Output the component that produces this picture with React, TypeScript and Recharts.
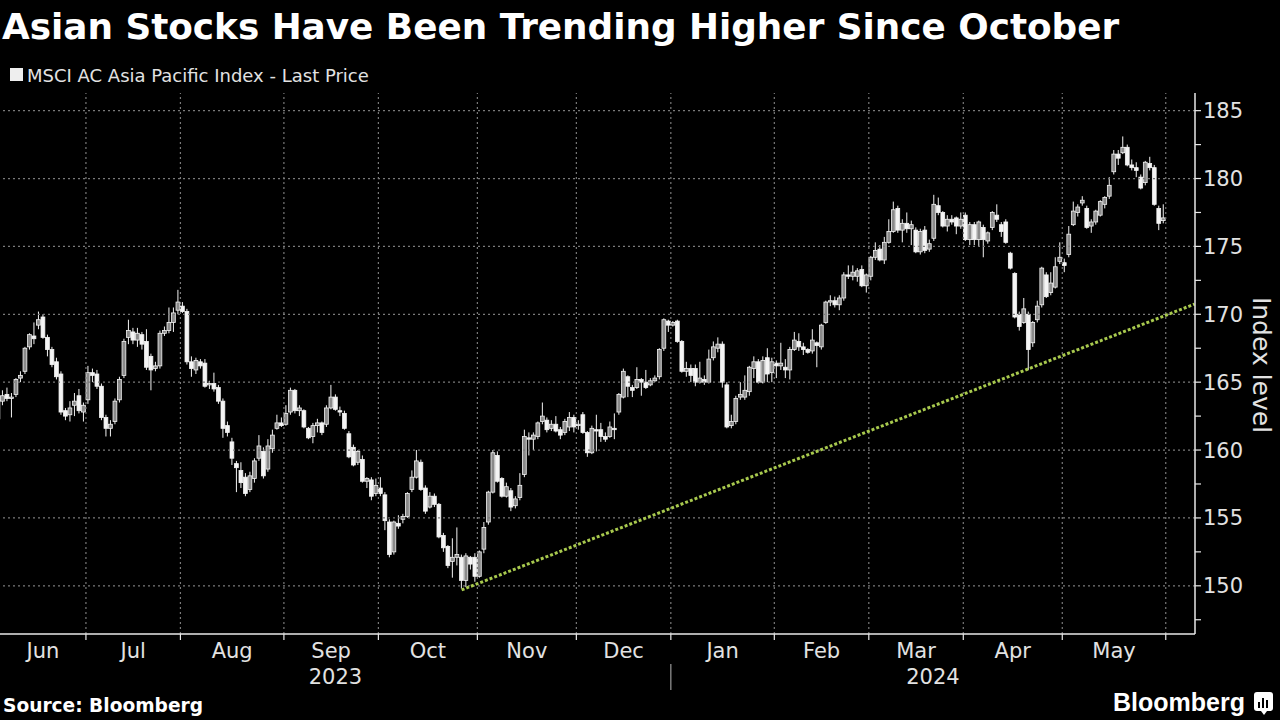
import React from 'react';
import { ComposedChart, Bar, XAxis, YAxis, ReferenceLine } from 'recharts';

// Trading-day index 0 = 5 Jun 2023 ... 259 = 31 May 2024
const OPEN = [
  162.3,163.6,164.1,163.8,164.1,165.3,165.8,167.6,168.4,169.2,169.8,168.3,167.4,166.5,165.6,162.9,162.6,163.3,164.0,162.8,
  163.7,165.7,165.6,164.7,162.4,161.6,162.1,163.7,165.5,168.3,168.7,168.1,168.5,168.0,166.9,166.0,166.2,168.6,168.8,169.4,170.3,
  170.6,170.2,166.5,165.9,166.5,166.4,164.8,164.9,164.6,163.6,161.8,160.6,159.0,158.5,158.0,157.1,157.9,159.4,159.9,158.6,160.1,161.6,162.0,
  161.9,162.8,164.4,162.9,162.9,161.6,161.0,161.8,162.0,161.9,163.1,163.9,162.9,162.7,161.2,160.2,159.1,159.3,157.7,157.8,156.8,
  157.2,156.7,154.7,152.5,154.6,154.9,155.1,157.1,158.0,159.1,157.2,155.8,156.6,156.0,153.7,152.9,151.8,152.1,152.1,150.4,152.1,152.1,
  150.7,152.7,154.7,156.9,159.6,157.9,156.6,157.0,155.9,156.5,158.2,160.9,160.8,161.0,162.1,162.2,161.6,161.9,161.5,161.3,161.7,162.4,
  161.8,162.6,161.3,159.8,161.5,161.5,161.0,161.0,161.6,162.8,163.9,165.4,164.6,164.6,165.2,165.0,164.8,165.1,165.4,167.5,169.5,
  169.2,169.5,168.0,165.8,166.0,166.0,165.0,165.2,165.0,166.8,167.5,167.8,164.8,161.8,162.1,163.9,163.9,164.3,166.0,166.5,165.0,166.8,165.7,
  166.4,166.2,166.1,165.9,167.4,168.0,167.6,167.4,167.3,167.9,167.6,169.4,170.9,171.0,170.7,171.2,172.9,172.8,172.8,173.3,172.1,
  172.8,174.2,174.8,174.0,175.3,176.1,177.8,176.2,176.7,176.3,176.2,174.6,176.2,174.8,175.6,178.0,177.5,176.5,177.0,177.1,176.5,
  177.3,175.5,176.6,175.5,176.4,175.4,176.4,177.3,176.6,176.8,174.5,173.0,170.0,169.4,170.0,167.9,169.6,170.7,172.9,171.6,172.0,173.9,
  173.8,174.4,176.6,177.5,178.2,177.8,176.5,176.8,177.3,178.1,178.7,180.5,181.8,181.9,182.3,181.0,180.8,180.1,179.7,181.1,180.8,177.8,176.9,
];
const HIGH = [
  164.0,164.4,164.6,164.2,165.3,165.8,167.6,168.6,169.4,170.2,170.0,168.5,167.6,166.8,165.8,163.1,163.6,164.2,164.5,163.5,
  166.2,166.0,165.9,164.9,162.6,162.2,163.8,165.4,168.2,169.6,169.0,169.0,168.7,168.9,167.1,166.5,168.8,169.1,170.5,170.5,171.8,
  170.9,170.4,166.9,166.8,166.7,166.7,165.1,165.7,164.8,163.8,162.1,160.9,159.2,159.1,158.3,158.4,159.4,161.1,160.2,160.8,161.5,162.6,162.4,
  163.3,164.6,164.5,163.3,163.0,161.7,162.0,162.3,162.1,163.3,164.8,164.1,163.2,162.9,161.4,160.4,160.0,159.6,158.0,158.0,157.9,
  158.0,156.9,154.9,154.8,155.2,155.3,156.9,158.5,160.0,159.3,157.4,156.9,156.8,156.1,153.9,153.0,153.5,154.3,152.3,152.4,152.2,152.4,
  152.6,154.7,157.0,160.0,159.9,158.0,157.6,157.2,156.6,158.3,161.5,161.3,161.3,162.1,163.5,162.4,162.2,162.5,161.7,162.3,162.8,162.6,
  162.2,162.8,161.4,161.8,162.6,162.0,161.3,162.1,162.7,164.2,166.0,165.5,164.8,166.1,165.3,165.9,165.3,165.5,167.5,169.7,169.6,
  169.5,169.6,168.1,166.5,166.3,166.3,166.5,165.5,167.4,168.0,168.3,168.0,165.0,162.6,164.0,165.0,165.5,166.2,166.9,166.7,166.9,167.5,166.8,
  166.6,167.9,166.7,167.6,168.7,168.6,167.9,167.5,168.9,168.0,169.3,171.0,171.4,171.3,171.4,173.1,173.6,173.6,173.4,173.6,173.0,
  174.3,175.3,175.1,175.7,177.0,178.3,178.0,177.0,177.5,176.9,176.4,176.3,176.5,175.5,178.8,178.6,177.6,177.3,177.3,177.2,177.5,
  177.5,176.8,176.8,176.9,176.6,176.1,177.6,178.1,176.8,177.0,174.6,173.1,170.2,171.2,170.2,169.5,171.0,173.5,173.1,173.1,174.2,175.3,
  174.1,176.5,178.3,178.1,178.7,178.0,177.0,177.7,178.4,178.7,180.1,182.1,182.1,183.1,182.5,181.4,181.2,180.3,181.3,181.6,181.0,178.0,178.1,
];
const LOW = [
  162.1,163.3,163.6,162.4,163.9,165.0,165.6,167.4,167.8,168.9,168.2,166.9,166.1,165.2,162.6,162.2,162.1,162.5,162.7,162.1,
  163.4,165.0,164.5,162.2,161.0,161.0,161.9,163.5,165.3,167.8,167.8,167.6,167.4,165.9,164.4,165.8,166.0,168.4,168.6,168.7,170.0,
  170.1,166.3,165.4,165.6,166.0,164.6,164.5,164.3,163.4,160.9,161.0,158.9,156.9,157.2,156.6,156.9,157.6,159.2,157.9,158.4,159.8,161.5,161.7,
  161.8,162.6,162.7,162.5,161.6,160.8,160.5,161.3,161.1,161.7,163.0,162.9,162.5,161.5,159.4,158.8,158.9,157.6,157.2,156.3,156.6,
  156.6,154.1,152.1,152.3,154.2,154.6,155.0,156.9,157.9,157.0,155.3,155.7,155.8,153.5,152.5,151.3,150.6,151.5,149.8,149.9,151.2,150.3,
  150.6,152.4,154.5,156.8,157.6,156.5,156.5,155.5,155.7,156.3,158.0,159.6,160.0,160.8,161.9,161.3,161.4,161.3,160.8,161.1,161.4,161.3,
  161.5,161.2,159.5,159.7,159.9,160.6,160.6,160.9,160.8,162.6,163.8,163.9,163.9,164.5,164.0,164.5,164.7,165.0,165.2,167.3,168.7,
  169.1,167.9,165.7,165.4,165.0,164.7,164.9,164.8,164.9,166.6,167.2,164.6,161.6,161.6,161.9,163.7,163.7,164.0,165.3,164.9,164.9,165.0,165.0,
  165.3,165.9,165.3,165.2,167.3,167.3,167.0,167.1,167.1,166.1,167.4,169.3,170.6,170.5,170.3,171.0,172.6,172.5,172.4,172.0,171.6,
  172.5,174.0,173.9,173.7,175.2,176.0,176.0,175.3,176.0,175.1,174.5,174.4,174.5,174.6,175.4,177.3,176.4,176.1,176.6,175.9,176.3,
  175.4,175.1,175.1,175.0,174.2,175.2,176.2,176.8,175.7,175.2,173.3,169.7,168.8,169.3,165.9,167.6,169.4,170.5,171.2,171.4,171.9,173.7,
  173.1,174.2,176.5,177.2,178.0,176.3,176.0,176.6,177.2,177.8,178.5,180.3,181.0,181.8,180.9,180.6,180.1,179.2,179.5,180.6,178.0,176.2,176.7,
];
const CLOSE = [
  163.7,164.0,163.8,163.9,165.2,165.5,167.5,168.5,168.2,169.6,168.3,167.4,166.3,165.4,162.8,162.5,163.1,163.6,162.9,163.3,
  165.7,165.5,164.7,162.4,161.6,161.9,163.6,165.2,168.0,168.8,168.1,168.6,167.8,166.1,165.9,166.2,168.6,168.8,169.4,170.1,170.9,
  170.2,166.5,166.0,166.6,166.2,164.7,164.9,164.5,163.6,161.6,161.3,159.4,158.7,157.6,156.8,158.1,159.2,160.3,158.1,160.3,161.1,162.0,161.8,
  162.7,164.4,162.9,163.1,161.7,160.9,161.8,162.0,161.3,163.1,163.9,163.0,162.8,161.6,159.5,158.9,159.9,157.7,157.9,156.6,157.4,
  156.8,154.8,152.3,154.7,154.4,155.1,156.8,158.0,159.2,157.1,155.5,156.6,156.0,153.6,152.8,151.5,152.1,152.3,150.4,152.2,151.6,150.7,
  152.5,154.3,156.9,159.8,157.7,156.6,157.3,155.8,156.4,157.4,161.0,160.8,161.1,162.0,162.5,161.5,161.9,161.4,161.1,162.1,162.4,161.7,
  161.9,161.3,159.8,161.6,161.4,161.0,160.8,161.7,161.5,164.1,165.8,164.7,164.4,165.2,165.0,164.6,165.1,165.3,167.4,169.6,169.2,
  169.4,168.0,165.8,166.0,165.5,165.0,165.3,165.0,166.7,167.6,167.8,165.0,161.7,162.1,163.8,164.1,164.4,166.1,166.5,165.0,166.6,165.6,166.5,
  166.2,166.4,165.9,167.4,168.1,167.6,167.4,167.2,168.1,167.7,169.2,170.9,171.0,170.7,171.2,172.9,172.8,173.1,173.2,172.1,172.9,
  174.2,174.7,174.0,175.3,176.1,177.7,176.2,176.7,176.3,176.6,174.6,176.1,174.7,175.2,178.1,177.5,176.5,177.0,176.8,176.5,177.0,
  175.5,176.6,175.5,176.8,175.5,176.0,177.5,177.0,176.1,175.3,173.4,169.8,169.1,170.4,167.4,169.4,170.6,173.4,171.3,172.3,173.5,174.2,
  173.6,175.9,177.6,177.9,178.4,176.4,176.8,177.6,178.3,178.6,179.5,181.8,181.5,182.3,181.0,180.8,180.6,179.3,181.2,180.8,178.1,176.7,177.1,
];

const MONTHS = ['Jun', 'Jul', 'Aug', 'Sep', 'Oct', 'Nov', 'Dec', 'Jan', 'Feb', 'Mar', 'Apr', 'May'];
// month boundaries in trading-day index (between last day of one month and first of next)
const MONTH_BOUNDS = [19.5, 40.5, 63.5, 84.5, 106.5, 128.5, 149.5, 172.5, 193.5, 214.5, 236.5, 259.5];
const YEARS = ['2023', '2024'];
const YEAR_BREAK = 149.5;
const X_DOMAIN: [number, number] = [0.4, 266];
const Y_DOMAIN: [number, number] = [146.45, 186.3];
const Y_TICKS = [147.5, 150, 152.5, 155, 157.5, 160, 162.5, 165, 167.5, 170, 172.5, 175, 177.5, 180, 182.5, 185];
const Y_GRID = [150, 155, 160, 165, 170, 175, 180, 185];
const TREND_START = { x: 103, y: 149.7 };
const TREND_END = { x: 265.9, y: 170.75 };

const data = OPEN.map((o, i) => ({
  day: i,
  open: o,
  high: HIGH[i],
  low: LOW[i],
  close: CLOSE[i],
  range: [LOW[i], HIGH[i]],
}));

const monthStarts = [X_DOMAIN[0], ...MONTH_BOUNDS.slice(0, -1)];
const monthMids = MONTHS.map((_, k) => (monthStarts[k] + MONTH_BOUNDS[k]) / 2);
const yearCenters = [(X_DOMAIN[0] + YEAR_BREAK) / 2, (YEAR_BREAK + X_DOMAIN[1]) / 2];
const labelTicks = [...monthMids, ...yearCenters, YEAR_BREAK];

const SANS = "'DejaVu Sans', sans-serif";
const LABEL_COLOR = '#e2e2e2';

const Candle = (props: any) => {
  const { x, y, width, height, payload } = props;
  if (x == null || y == null || !payload) return <g />;
  const { open, close, high, low } = payload;
  const top = Math.min(y, y + height);
  const bottom = Math.max(y, y + height);
  const span = high - low || 1;
  const toY = (v: number) => top + ((high - v) / span) * (bottom - top);
  const cx = x + width / 2;
  const bTop = toY(Math.max(open, close));
  const bBot = toY(Math.min(open, close));
  const up = close > open;
  const bw = 3.8;
  return (
    <g>
      <line x1={cx} x2={cx} y1={top} y2={bottom} stroke="#f2f2f2" strokeWidth={1} />
      <rect
        x={cx - bw / 2}
        y={bTop}
        width={bw}
        height={Math.max(bBot - bTop, 1.2)}
        fill={up ? '#8a8a8a' : '#f4f4f4'}
        stroke="#f4f4f4"
        strokeWidth={0.8}
      />
    </g>
  );
};

const LabelTick = (props: any) => {
  const { x, y, payload } = props;
  const v = payload?.value;
  const mi = monthMids.indexOf(v);
  if (mi >= 0) {
    return (
      <text x={x} y={y + 23} textAnchor="middle" fill={LABEL_COLOR} fontSize={21} fontFamily={SANS}>
        {MONTHS[mi]}
      </text>
    );
  }
  const yi = yearCenters.indexOf(v);
  if (yi >= 0) {
    return (
      <text x={x} y={y + 49} textAnchor="middle" fill={LABEL_COLOR} fontSize={21} fontFamily={SANS}>
        {YEARS[yi]}
      </text>
    );
  }
  return <line x1={x} x2={x} y1={y + 29} y2={y + 55} stroke="#9a9a9a" strokeWidth={1.2} />;
};

const YTick = (props: any) => {
  const { x, y, payload } = props;
  const v = payload?.value;
  if (Math.abs(v % 5) > 1e-6) return <g />;
  return (
    <text x={x} y={y} dy="0.36em" textAnchor="start" fill={LABEL_COLOR} fontSize={21} fontFamily={SANS}>
      {v}
    </text>
  );
};

const EmptyTick = () => <g />;

export default function App() {
  return (
    <div style={{ position: 'absolute', left: 0, top: 0, width: 1280, height: 720, background: '#000', overflow: 'hidden' }}>
      <ComposedChart
        width={1280}
        height={720}
        data={data}
        margin={{ top: 93, right: 0, bottom: 0, left: 0 }}
      >
        <XAxis
          xAxisId={0}
          dataKey="day"
          type="number"
          domain={X_DOMAIN}
          allowDataOverflow
          ticks={MONTH_BOUNDS}
          interval={0}
          height={1}
          tick={EmptyTick}
          tickSize={6}
          tickLine={{ stroke: '#e8e8e8', strokeWidth: 1.2 }}
          axisLine={{ stroke: '#e8e8e8', strokeWidth: 1.5 }}
        />
        <XAxis
          xAxisId="lab"
          dataKey="day"
          type="number"
          domain={X_DOMAIN}
          allowDataOverflow
          ticks={labelTicks}
          interval={0}
          height={85}
          tickSize={0}
          tickMargin={0}
          tick={LabelTick}
          tickLine={false}
          axisLine={false}
        />
        <YAxis
          orientation="right"
          type="number"
          domain={Y_DOMAIN}
          allowDataOverflow
          ticks={Y_TICKS}
          interval={0}
          width={85}
          tickSize={6}
          tickMargin={2}
          tick={YTick}
          tickLine={{ stroke: '#e8e8e8', strokeWidth: 1.2 }}
          axisLine={{ stroke: '#e8e8e8', strokeWidth: 1.5 }}
        />
        {Y_GRID.map((v) => (
          <ReferenceLine key={'gy' + v} y={v} stroke="#7a7a7a" strokeDasharray="2 3" strokeWidth={1.2} />
        ))}
        {MONTH_BOUNDS.map((v) => (
          <ReferenceLine key={'gx' + v} x={v} stroke="#7a7a7a" strokeDasharray="2 3" strokeWidth={1.2} />
        ))}
        <Bar dataKey="range" barSize={4} shape={Candle} isAnimationActive={false} />
        <ReferenceLine
          segment={[TREND_START, TREND_END]}
          stroke="#a8c94e"
          strokeWidth={3}
          strokeDasharray="3 2"
          ifOverflow="visible"
        />
      </ComposedChart>
      <svg width={1280} height={720} style={{ position: 'absolute', left: 0, top: 0, pointerEvents: 'none' }}>
        <text x={2} y={39} fill="#ffffff" fontSize={35.8} fontWeight="bold" fontFamily={SANS}>
          Asian Stocks Have Been Trending Higher Since October
        </text>
        <rect x={10} y={68} width={13} height={13} fill="#eeeeee" />
        <text x={27} y={82} fill={LABEL_COLOR} fontSize={18} fontFamily={SANS}>
          MSCI AC Asia Pacific Index - Last Price
        </text>
        <text
          transform="translate(1262,365) rotate(90)"
          textAnchor="middle"
          dy="0.36em"
          fill={LABEL_COLOR}
          fontSize={25}
          fontFamily={SANS}
        >
          Index level
        </text>
        <text x={3} y={712} fill="#ffffff" fontSize={18.6} fontWeight="bold" fontFamily={SANS}>
          Source: Bloomberg
        </text>
        <text x={1245} y={711} textAnchor="end" fill="#ffffff" fontSize={25} fontWeight="bold" fontFamily="'Liberation Sans', Arial, sans-serif">
          Bloomberg
        </text>
        <rect x={1254} y={692} width={19} height={19} rx={3} fill="#ffffff" />
        <rect x={1258} y={702} width={2} height={6} fill="#000" />
        <rect x={1262} y={698} width={2} height={10} fill="#000" />
        <rect x={1266} y={700} width={2} height={8} fill="#000" />
        <path d="M1261 711 L1264 715 L1267 711 Z" fill="#ffffff" />
      </svg>
    </div>
  );
}
